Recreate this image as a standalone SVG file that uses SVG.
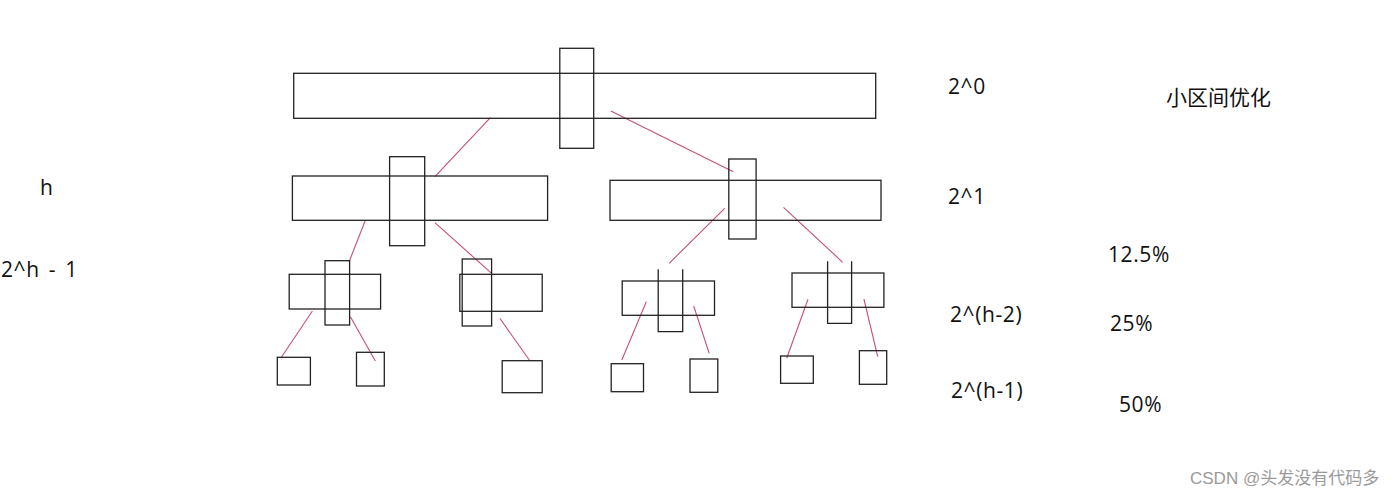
<svg xmlns="http://www.w3.org/2000/svg" width="1400" height="496" viewBox="0 0 1400 496">
<style>
.b{fill:none;stroke:#222;stroke-width:1.3}
.r{stroke:#c8506e;stroke-width:1.1;fill:none}
.t{font-family:"Open Sans","Noto Sans","Noto Sans CJK SC",sans-serif;font-size:21px;letter-spacing:0.6px;fill:#111}
.w{font-family:"Liberation Sans","Noto Sans CJK SC",sans-serif;font-size:17px;fill:#9a9a9a}
</style>
<rect width="1400" height="496" fill="#fff"/>
<g id="connectors">
<line class="r" x1="490.4" y1="117.7" x2="434.9" y2="176.7"/>
<line class="r" x1="610.8" y1="111" x2="733.3" y2="171.7"/>
<line class="r" x1="365.1" y1="221" x2="349" y2="262"/>
<line class="r" x1="434.9" y1="222.7" x2="491.6" y2="273.3"/>
<line class="r" x1="724.7" y1="208.3" x2="669.2" y2="263.3"/>
<line class="r" x1="783.5" y1="207.3" x2="842.7" y2="262.3"/>
<line class="r" x1="312.4" y1="311" x2="281.4" y2="357.3"/>
<line class="r" x1="350.4" y1="316.7" x2="375.3" y2="361"/>
<line class="r" x1="499.8" y1="318.3" x2="530" y2="361"/>
<line class="r" x1="646.3" y1="301.7" x2="621.8" y2="360"/>
<line class="r" x1="693.7" y1="306" x2="709.2" y2="353.3"/>
<line class="r" x1="808" y1="299.3" x2="786.7" y2="358.3"/>
<line class="r" x1="863.9" y1="299" x2="877.7" y2="356.7"/>
</g>
<g id="level0">
<rect class="b" x="293.7" y="73.3" width="582" height="45"/>
<rect class="b" x="559.8" y="48.3" width="33.9" height="100"/>
</g>
<g id="level1-left">
<rect class="b" x="292.4" y="176" width="255.2" height="44.3"/>
<rect class="b" x="389.6" y="156.7" width="35.1" height="89"/>
</g>
<g id="level1-right">
<rect class="b" x="610" y="180.3" width="271" height="40"/>
<rect class="b" x="728.8" y="159" width="27.3" height="80"/>
</g>
<g id="level2-a">
<rect class="b" x="289.2" y="274.3" width="91.4" height="34.7"/>
<rect class="b" x="325" y="260.7" width="24.6" height="64.3"/>
</g>
<g id="level2-b">
<rect class="b" x="459.8" y="274.3" width="82.4" height="37"/>
<rect class="b" x="462.2" y="259" width="29.4" height="67"/>
</g>
<g id="level2-c">
<rect class="b" x="622.2" y="281" width="92.3" height="34.3"/>
<path class="b" d="M658.2 269.3V331.7H682.7V269.3"/>
</g>
<g id="level2-d">
<rect class="b" x="792" y="273" width="91.9" height="34.3"/>
<path class="b" d="M827.6 261.3V323.3H851.6V261.3"/>
</g>
<g id="leaf1"><rect class="b" x="277.3" y="357.3" width="33.1" height="27.7"/></g>
<g id="leaf2"><rect class="b" x="356.5" y="352.3" width="27.8" height="33.7"/></g>
<g id="leaf3"><rect class="b" x="502.2" y="360.7" width="40" height="32"/></g>
<g id="leaf4"><rect class="b" x="611.2" y="363.7" width="32.3" height="28"/></g>
<g id="leaf5"><rect class="b" x="690" y="359" width="27.8" height="33.3"/></g>
<g id="leaf6"><rect class="b" x="780.6" y="356" width="32.7" height="27.3"/></g>
<g id="leaf7"><rect class="b" x="859.4" y="350.7" width="27.3" height="33.6"/></g>
<g id="labels">
<text class="t" x="40" y="195">h</text>
<text class="t" x="1" y="277" style="word-spacing:3px">2^h - 1</text>
<text class="t" x="948" y="94">2^0</text>
<text class="t" x="1166" y="105" style="letter-spacing:0">小区间优化</text>
<text class="t" x="948" y="204">2^1</text>
<text class="t" x="1108" y="262">12.5%</text>
<text class="t" x="950" y="322">2^(h-2)</text>
<text class="t" x="1110" y="331">25%</text>
<text class="t" x="951" y="398">2^(h-1)</text>
<text class="t" x="1119" y="412">50%</text>
<text class="w" x="1190" y="484">CSDN @头发没有代码多</text>
</g>
</svg>
